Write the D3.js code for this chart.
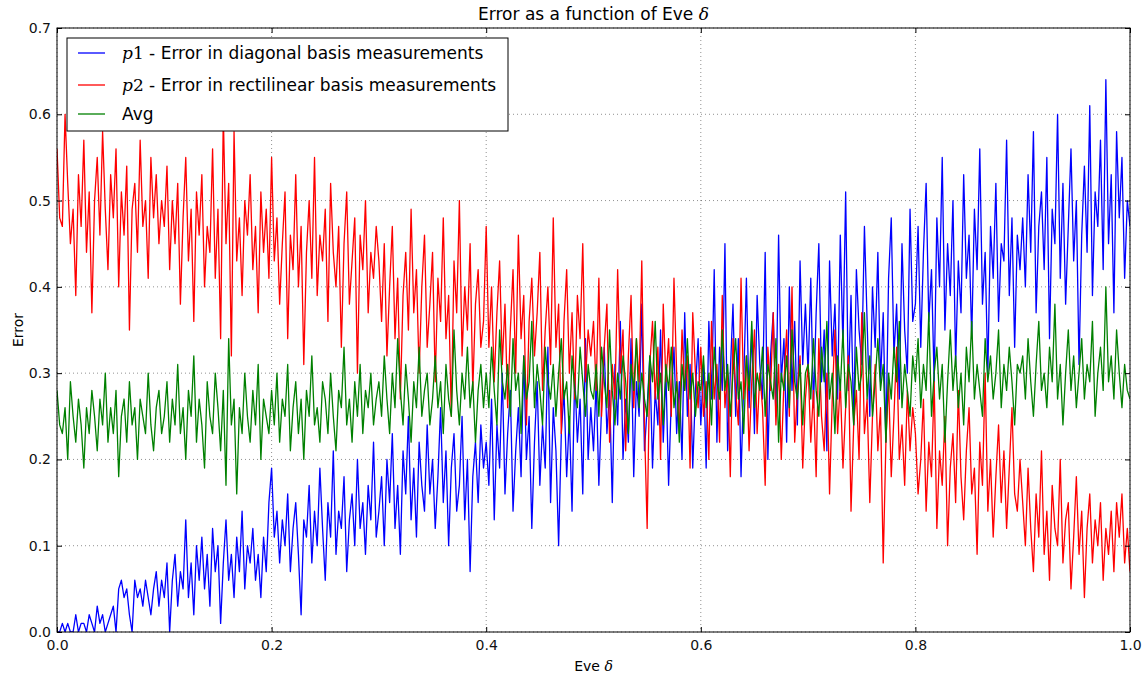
<!DOCTYPE html>
<html>
<head>
<meta charset="utf-8">
<script src="https://cdn.jsdelivr.net/npm/d3@7"></script>
<style>
  body { margin: 0; background: #fff; }
  text { font-family: "DejaVu Sans", sans-serif; fill: #000; }
  .tick text { font-size: 14px; fill: #111; }
  .grid line { stroke: #000; stroke-opacity: 0.55; stroke-dasharray: 1,3; stroke-width: 0.8; }
</style>
</head>
<body>
<div id="scene-container"></div>
<script>
// Eve delta sampled from 0 to 1 in steps of 0.0025
const delta = d3.range(401).map(i => +(i * 0.0025).toFixed(4));

// p1 - error in diagonal basis measurements
const p1 = [
  0, 0, 0.01, 0, 0.01, 0, 0, 0.02, 0, 0.01, 0.01, 0, 0.02, 0.01, 0, 0.03, 0.01, 0.02, 0, 0.01,
  0.02, 0.03, 0, 0.05, 0.06, 0.04, 0.05, 0.02, 0, 0.06, 0.04, 0.05, 0.03, 0.06, 0.04, 0.02, 0.05, 0.07, 0.03, 0.06,
  0.04, 0.08, 0, 0.06, 0.09, 0.03, 0.07, 0.05, 0.13, 0.04, 0.08, 0.02, 0.10, 0.06, 0.11, 0.05, 0.09, 0.03, 0.12, 0.07,
  0.10, 0.01, 0.08, 0.13, 0.06, 0.09, 0.04, 0.11, 0.07, 0.14, 0.05, 0.10, 0.08, 0.12, 0.06, 0.09, 0.04, 0.11, 0.07, 0.15,
  0.19, 0.11, 0.14, 0.08, 0.13, 0.10, 0.16, 0.07, 0.12, 0.15, 0.09, 0.02, 0.13, 0.11, 0.17, 0.08, 0.14, 0.10, 0.19, 0.12,
  0.06, 0.15, 0.11, 0.21, 0.09, 0.14, 0.12, 0.18, 0.07, 0.13, 0.16, 0.10, 0.20, 0.12, 0.15, 0.09, 0.17, 0.13, 0.22, 0.11,
  0.14, 0.18, 0.10, 0.20, 0.15, 0.23, 0.12, 0.17, 0.09, 0.21, 0.16, 0.25, 0.13, 0.19, 0.11, 0.22, 0.17, 0.14, 0.24, 0.16,
  0.20, 0.12, 0.18, 0.26, 0.15, 0.21, 0.10, 0.19, 0.23, 0.14, 0.17, 0.25, 0.13, 0.20, 0.07, 0.18, 0.22, 0.15, 0.24, 0.19,
  0.22, 0.17, 0.27, 0.13, 0.24, 0.19, 0.30, 0.16, 0.23, 0.28, 0.14, 0.21, 0.26, 0.18, 0.32, 0.20, 0.25, 0.12, 0.22, 0.29,
  0.17, 0.24, 0.19, 0.33, 0.15, 0.26, 0.21, 0.10, 0.23, 0.28, 0.18, 0.25, 0.14, 0.30, 0.22, 0.27, 0.16, 0.34, 0.20, 0.26,
  0.21, 0.29, 0.17, 0.26, 0.33, 0.23, 0.28, 0.15, 0.31, 0.24, 0.36, 0.20, 0.27, 0.22, 0.34, 0.18, 0.29, 0.25, 0.38, 0.21,
  0.26, 0.32, 0.19, 0.28, 0.24, 0.35, 0.22, 0.30, 0.17, 0.27, 0.33, 0.23, 0.29, 0.20, 0.37, 0.25, 0.31, 0.19, 0.28, 0.34,
  0.24, 0.31, 0.19, 0.36, 0.27, 0.42, 0.22, 0.33, 0.28, 0.45, 0.21, 0.30, 0.38, 0.25, 0.34, 0.18, 0.29, 0.41, 0.26, 0.35,
  0.23, 0.39, 0.31, 0.27, 0.44, 0.20, 0.32, 0.37, 0.25, 0.46, 0.29, 0.34, 0.22, 0.40, 0.28, 0.36, 0.24, 0.43, 0.31, 0.38,
  0.30, 0.41, 0.26, 0.37, 0.45, 0.29, 0.35, 0.21, 0.43, 0.32, 0.38, 0.27, 0.46, 0.33, 0.51, 0.28, 0.39, 0.24, 0.42, 0.35,
  0.31, 0.47, 0.36, 0.25, 0.40, 0.33, 0.44, 0.29, 0.37, 0.22, 0.41, 0.48, 0.32, 0.38, 0.27, 0.45, 0.35, 0.30, 0.49, 0.36,
  0.38, 0.47, 0.33, 0.44, 0.52, 0.36, 0.42, 0.29, 0.48, 0.40, 0.55, 0.35, 0.45, 0.39, 0.50, 0.31, 0.43, 0.37, 0.53, 0.41,
  0.46, 0.34, 0.49, 0.42, 0.56, 0.38, 0.44, 0.30, 0.47, 0.41, 0.52, 0.36, 0.45, 0.43, 0.57, 0.39, 0.48, 0.33, 0.46, 0.42,
  0.48, 0.40, 0.53, 0.44, 0.58, 0.37, 0.47, 0.51, 0.42, 0.55, 0.34, 0.49, 0.45, 0.60, 0.41, 0.52, 0.38, 0.47, 0.56, 0.43,
  0.50, 0.31, 0.46, 0.54, 0.44, 0.61, 0.39, 0.51, 0.47, 0.57, 0.42, 0.64, 0.45, 0.53, 0.37, 0.58, 0.48, 0.55, 0.41, 0.50,
  0.47
];

// p2 - error in rectilinear basis measurements
const p2 = [
  0.56, 0.48, 0.47, 0.60, 0.52, 0.45, 0.49, 0.39, 0.53, 0.47, 0.57, 0.44, 0.51, 0.37, 0.50, 0.55, 0.46, 0.58, 0.49, 0.42,
  0.53, 0.48, 0.56, 0.40, 0.51, 0.46, 0.54, 0.35, 0.49, 0.52, 0.44, 0.57, 0.47, 0.50, 0.41, 0.55, 0.48, 0.53, 0.45, 0.50,
  0.47, 0.54, 0.42, 0.50, 0.45, 0.52, 0.38, 0.48, 0.55, 0.43, 0.49, 0.36, 0.51, 0.46, 0.53, 0.40, 0.47, 0.44, 0.56, 0.41,
  0.49, 0.34, 0.60, 0.45, 0.52, 0.32, 0.58, 0.43, 0.48, 0.39, 0.50, 0.46, 0.53, 0.42, 0.47, 0.37, 0.51, 0.44, 0.49, 0.41,
  0.55, 0.43, 0.48, 0.38, 0.45, 0.51, 0.34, 0.46, 0.42, 0.53, 0.40, 0.47, 0.31, 0.44, 0.50, 0.41, 0.55, 0.39, 0.46, 0.43,
  0.49, 0.36, 0.52, 0.44, 0.40, 0.47, 0.33, 0.45, 0.51, 0.38, 0.43, 0.48, 0.30, 0.46, 0.42, 0.50, 0.37, 0.44, 0.41, 0.47,
  0.43, 0.36, 0.45, 0.32, 0.40, 0.47, 0.34, 0.41, 0.27, 0.39, 0.44, 0.35, 0.49, 0.37, 0.42, 0.30, 0.40, 0.46, 0.33, 0.38,
  0.44, 0.29, 0.41, 0.36, 0.48, 0.34, 0.39, 0.25, 0.43, 0.37, 0.50, 0.32, 0.40, 0.35, 0.45, 0.28, 0.38, 0.42, 0.33, 0.36,
  0.47, 0.33, 0.40, 0.29, 0.37, 0.43, 0.31, 0.38, 0.26, 0.35, 0.42, 0.30, 0.46, 0.34, 0.39, 0.24, 0.36, 0.41, 0.32, 0.37,
  0.44, 0.28, 0.35, 0.40, 0.31, 0.48, 0.33, 0.38, 0.23, 0.36, 0.42, 0.30, 0.37, 0.27, 0.39, 0.34, 0.45, 0.29, 0.35, 0.32,
  0.36, 0.28, 0.41, 0.25, 0.33, 0.38, 0.22, 0.31, 0.27, 0.42, 0.30, 0.35, 0.21, 0.32, 0.39, 0.26, 0.34, 0.29, 0.43, 0.24,
  0.12, 0.31, 0.36, 0.27, 0.33, 0.20, 0.38, 0.29, 0.34, 0.25, 0.41, 0.30, 0.23, 0.35, 0.28, 0.32, 0.19, 0.37, 0.30, 0.26,
  0.33, 0.25, 0.29, 0.20, 0.36, 0.27, 0.31, 0.22, 0.39, 0.26, 0.30, 0.18, 0.34, 0.28, 0.24, 0.41, 0.27, 0.32, 0.21, 0.29,
  0.35, 0.23, 0.30, 0.26, 0.17, 0.33, 0.28, 0.37, 0.24, 0.31, 0.20, 0.29, 0.35, 0.25, 0.40, 0.22, 0.28, 0.32, 0.19, 0.27,
  0.31, 0.22, 0.28, 0.18, 0.34, 0.25, 0.21, 0.30, 0.16, 0.27, 0.35, 0.23, 0.29, 0.19, 0.26, 0.32, 0.14, 0.24, 0.28, 0.20,
  0.37, 0.23, 0.27, 0.15, 0.25, 0.31, 0.21, 0.26, 0.08, 0.22, 0.29, 0.18, 0.25, 0.33, 0.20, 0.24, 0.17, 0.28, 0.21, 0.26,
  0.23, 0.16, 0.20, 0.27, 0.14, 0.22, 0.18, 0.29, 0.12, 0.21, 0.17, 0.25, 0.10, 0.19, 0.23, 0.15, 0.28, 0.18, 0.13, 0.21,
  0.26, 0.16, 0.19, 0.09, 0.22, 0.17, 0.30, 0.14, 0.20, 0.11, 0.18, 0.24, 0.15, 0.21, 0.12, 0.19, 0.26, 0.16, 0.14, 0.20,
  0.15, 0.10, 0.19, 0.12, 0.07, 0.16, 0.11, 0.21, 0.09, 0.14, 0.06, 0.17, 0.12, 0.10, 0.20, 0.08, 0.13, 0.15, 0.05, 0.11,
  0.18, 0.09, 0.14, 0.04, 0.12, 0.16, 0.08, 0.13, 0.10, 0.15, 0.06, 0.12, 0.09, 0.14, 0.07, 0.15, 0.11, 0.16, 0.08, 0.12,
  0.07
];

// Avg
const avg = [
  0.28, 0.24, 0.23, 0.26, 0.20, 0.29, 0.25, 0.22, 0.27, 0.24, 0.19, 0.26, 0.23, 0.28, 0.25, 0.21, 0.27, 0.24, 0.30, 0.22,
  0.26, 0.23, 0.28, 0.18, 0.25, 0.27, 0.22, 0.29, 0.24, 0.26, 0.20, 0.27, 0.25, 0.23, 0.30, 0.24, 0.21, 0.26, 0.28, 0.23,
  0.25, 0.29, 0.22, 0.27, 0.24, 0.31, 0.23, 0.26, 0.20, 0.28, 0.25, 0.32, 0.22, 0.27, 0.24, 0.19, 0.29, 0.25, 0.23, 0.30,
  0.26, 0.21, 0.28, 0.17, 0.34, 0.24, 0.27, 0.16, 0.26, 0.23, 0.30, 0.25, 0.22, 0.28, 0.24, 0.31, 0.20, 0.27, 0.25, 0.23,
  0.28, 0.24, 0.30, 0.22, 0.27, 0.25, 0.31, 0.21, 0.26, 0.29, 0.23, 0.27, 0.20, 0.28, 0.25, 0.32, 0.24, 0.26, 0.22, 0.29,
  0.27, 0.23, 0.30, 0.25, 0.21, 0.28, 0.26, 0.33, 0.24, 0.27, 0.22, 0.29, 0.25, 0.31, 0.23, 0.28, 0.26, 0.30, 0.24, 0.27,
  0.29, 0.25, 0.32, 0.27, 0.23, 0.30, 0.26, 0.34, 0.28, 0.24, 0.31, 0.27, 0.22, 0.29, 0.26, 0.33, 0.25, 0.28, 0.30, 0.24,
  0.27, 0.32, 0.26, 0.29, 0.23, 0.31, 0.27, 0.25, 0.35, 0.28, 0.24, 0.30, 0.27, 0.33, 0.26, 0.29, 0.22, 0.28, 0.31, 0.26,
  0.30, 0.26, 0.33, 0.28, 0.24, 0.35, 0.29, 0.27, 0.31, 0.25, 0.34, 0.28, 0.30, 0.23, 0.32, 0.27, 0.29, 0.36, 0.26, 0.31,
  0.28, 0.24, 0.33, 0.29, 0.27, 0.31, 0.25, 0.30, 0.34, 0.27, 0.29, 0.23, 0.32, 0.28, 0.26, 0.33, 0.29, 0.25, 0.31, 0.28,
  0.27, 0.31, 0.25, 0.33, 0.29, 0.26, 0.35, 0.28, 0.24, 0.30, 0.27, 0.32, 0.29, 0.23, 0.31, 0.28, 0.34, 0.26, 0.30, 0.27,
  0.25, 0.32, 0.29, 0.36, 0.27, 0.30, 0.24, 0.31, 0.28, 0.33, 0.26, 0.29, 0.22, 0.31, 0.28, 0.34, 0.27, 0.30, 0.25, 0.29,
  0.28, 0.32, 0.26, 0.30, 0.24, 0.33, 0.29, 0.27, 0.35, 0.28, 0.31, 0.25, 0.30, 0.34, 0.27, 0.29, 0.23, 0.32, 0.28, 0.36,
  0.26, 0.30, 0.28, 0.33, 0.25, 0.31, 0.29, 0.27, 0.34, 0.22, 0.30, 0.28, 0.32, 0.26, 0.35, 0.29, 0.27, 0.31, 0.24, 0.30,
  0.31, 0.27, 0.34, 0.28, 0.25, 0.33, 0.29, 0.36, 0.27, 0.30, 0.23, 0.32, 0.28, 0.35, 0.26, 0.31, 0.29, 0.24, 0.33, 0.28,
  0.30, 0.37, 0.27, 0.32, 0.25, 0.29, 0.34, 0.28, 0.31, 0.22, 0.30, 0.27, 0.33, 0.29, 0.36, 0.26, 0.31, 0.28, 0.25, 0.32,
  0.29, 0.34, 0.26, 0.31, 0.28, 0.37, 0.25, 0.30, 0.33, 0.27, 0.31, 0.22, 0.29, 0.35, 0.28, 0.32, 0.26, 0.30, 0.24, 0.33,
  0.29, 0.36, 0.27, 0.31, 0.28, 0.25, 0.34, 0.29, 0.32, 0.27, 0.30, 0.35, 0.26, 0.31, 0.28, 0.33, 0.29, 0.24, 0.31, 0.30,
  0.32, 0.27, 0.34, 0.29, 0.25, 0.31, 0.36, 0.28, 0.30, 0.26, 0.33, 0.29, 0.38, 0.27, 0.31, 0.24, 0.30, 0.35, 0.28, 0.32,
  0.26, 0.30, 0.34, 0.27, 0.31, 0.29, 0.36, 0.25, 0.30, 0.33, 0.28, 0.40, 0.29, 0.32, 0.27, 0.35, 0.30, 0.26, 0.31, 0.28,
  0.27
];

const xTicks = [0, 0.2, 0.4, 0.6, 0.8, 1.0];
const yTicks = [0, 0.1, 0.2, 0.3, 0.4, 0.5, 0.6, 0.7];

const seriesNames = ["p1", "p2", "Avg"];
const seriesLabels = [" - Error in diagonal basis measurements", " - Error in rectilinear basis measurements", "Avg"];
const seriesColors = ["#0000ff", "#ff0000", "#008000"];

const margin = {top: 28, right: 15, bottom: 49, left: 57};
const width = 1145 - margin.left - margin.right;
const height = 681 - margin.top - margin.bottom;

const svg = d3.select("#scene-container")
    .append("svg")
    .attr("width", width + margin.left + margin.right)
    .attr("height", height + margin.top + margin.bottom)
    .append("g")
    .attr("transform", `translate(${margin.left},${margin.top})`);

const x = d3.scaleLinear().domain([0, 1]).range([0, width]);
const y = d3.scaleLinear().domain([0, 0.7]).range([height, 0]);

svg.append("clipPath").attr("id", "plot-clip")
    .append("rect").attr("width", width).attr("height", height);

// grid
svg.append("g").attr("class", "grid")
    .selectAll("line").data(xTicks).enter().append("line")
    .attr("x1", d => x(d)).attr("x2", d => x(d))
    .attr("y1", 0).attr("y2", height);
svg.append("g").attr("class", "grid")
    .selectAll("line").data(yTicks).enter().append("line")
    .attr("x1", 0).attr("x2", width)
    .attr("y1", d => y(d)).attr("y2", d => y(d));

// lines (blue, red, then green on top)
const series = [p1, p2, avg];
const line = d3.line()
    .x((d, i) => x(delta[i]))
    .y(d => y(d));

series.forEach((vals, k) => {
    svg.append("path")
        .datum(vals)
        .attr("clip-path", "url(#plot-clip)")
        .attr("fill", "none")
        .attr("stroke", seriesColors[k])
        .attr("stroke-width", 1.3)
        .attr("stroke-linejoin", "round")
        .attr("d", line);
});

// axes, ticks pointing inward like matplotlib classic
const fmt = d3.format(".1f");
svg.append("g")
    .attr("transform", `translate(0,${height})`)
    .call(d3.axisBottom(x).tickValues(xTicks).tickFormat(fmt).tickSizeInner(-5).tickSizeOuter(0).tickPadding(8))
    .call(g => g.select(".domain").remove());
svg.append("g")
    .call(d3.axisTop(x).tickValues(xTicks).tickFormat("").tickSizeInner(-5).tickSizeOuter(0))
    .call(g => g.select(".domain").remove());
svg.append("g")
    .call(d3.axisLeft(y).tickValues(yTicks).tickFormat(fmt).tickSizeInner(-5).tickSizeOuter(0).tickPadding(6))
    .call(g => g.select(".domain").remove());
svg.append("g")
    .attr("transform", `translate(${width},0)`)
    .call(d3.axisRight(y).tickValues(yTicks).tickFormat("").tickSizeInner(-5).tickSizeOuter(0))
    .call(g => g.select(".domain").remove());

svg.append("rect")
    .attr("width", width).attr("height", height)
    .attr("fill", "none").attr("stroke", "#000").attr("stroke-width", 1);

// title and axis labels
svg.append("text")
    .attr("x", width / 2)
    .attr("y", -8)
    .attr("text-anchor", "middle")
    .style("font-size", "17px")
    .text("Error as a function of Eve ")
    .append("tspan")
    .style("font-family", "'DejaVu Serif', serif")
    .style("font-style", "italic")
    .text("δ");

svg.append("text")
    .attr("x", width / 2)
    .attr("y", height + 39)
    .attr("text-anchor", "middle")
    .style("font-size", "14px")
    .text("Eve ")
    .append("tspan")
    .style("font-family", "'DejaVu Serif', serif")
    .style("font-style", "italic")
    .text("δ");

svg.append("text")
    .attr("transform", "rotate(-90)")
    .attr("x", -height / 2)
    .attr("y", -margin.left + 23)
    .attr("text-anchor", "middle")
    .style("font-size", "14px")
    .text("Error");

// legend
const legend = svg.append("g").attr("transform", "translate(10,10)");
legend.append("rect")
    .attr("width", 441).attr("height", 93)
    .attr("fill", "#fff").attr("stroke", "#000").attr("stroke-width", 1);

const entry = legend.selectAll("g.entry")
    .data(seriesNames)
    .enter().append("g")
    .attr("class", "entry")
    .attr("transform", (d, i) => `translate(0,${[15, 47, 76][i]})`);

entry.append("line")
    .attr("x1", 11).attr("x2", 38)
    .attr("stroke", (d, i) => seriesColors[i])
    .attr("stroke-width", 1.3);

entry.each(function(d, i) {
    const t = d3.select(this).append("text")
        .attr("x", 55).attr("y", 6)
        .style("font-size", "17px");
    if (d === "Avg") {
        t.text(seriesLabels[i]);
    } else {
        t.append("tspan")
            .style("font-family", "'DejaVu Serif', serif")
            .style("font-style", "italic")
            .text(d.charAt(0));
        t.append("tspan")
            .style("font-family", "'DejaVu Serif', serif")
            .text(d.charAt(1));
        t.append("tspan").text(seriesLabels[i]);
    }
});
</script>
</body>
</html>
